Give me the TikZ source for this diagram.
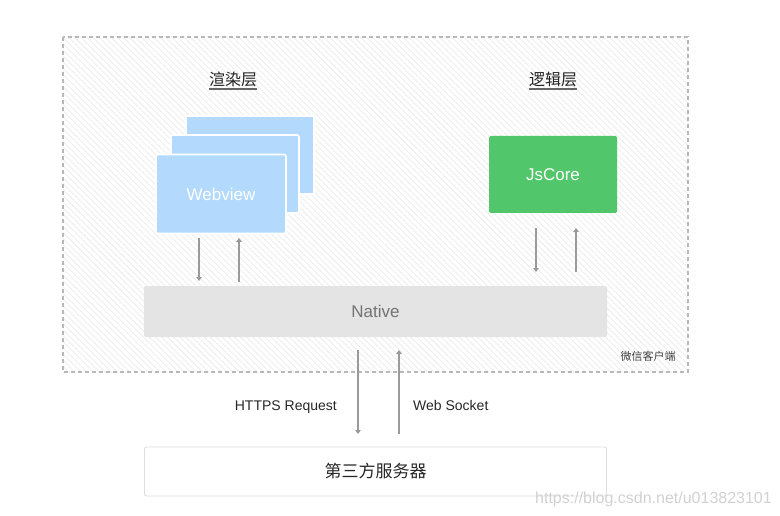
\documentclass[tikz,border=0pt]{standalone}
\usepackage{fontspec}
\setmainfont{Liberation Sans}
\newfontfamily\cjk{Noto Sans CJK SC}
\usetikzlibrary{patterns.meta,arrows.meta}
\definecolor{cardblue}{HTML}{B3DAFD}
\definecolor{coregreen}{HTML}{52C66A}
\definecolor{nativegray}{HTML}{E4E4E4}
\definecolor{arrowgray}{HTML}{9A9A9A}
\definecolor{dashgray}{HTML}{B8B8B8}
\definecolor{titlecol}{HTML}{222222}
\tikzset{
  card/.style={draw=white, line width=1.6pt, fill=cardblue, rounded corners=2pt},
  flow/.style={draw=arrowgray, line width=1.1pt, -{Triangle[length=4pt,width=5.5pt]}},
  title/.style={font=\cjk\fontsize{16}{18}\selectfont, text=titlecol, inner sep=0pt},
  lbl/.style={font=\fontsize{14}{16}\selectfont, text=black!85, inner sep=0pt},
}
\begin{document}
\begin{tikzpicture}[x=1pt,y=-1pt]
\useasboundingbox (0,0) rectangle (780,516);
% client frame
\path[pattern={Lines[angle=-45,distance=4.3pt,line width=0.9pt]}, pattern color=black!7] (63,37) rectangle (688,372);
\draw[dashgray, line width=1.3pt, dash pattern=on 4pt off 3pt] (63,37) rectangle (688,372);
\node[font=\cjk\fontsize{11}{13}\selectfont, text=black!75, inner sep=0pt] (client) at (648,356) {微信客户端};
% titles
\node[title] (t1) at (233,79) {渲染层};
\draw[black!60, line width=1.8pt] ([yshift=-2.5pt]t1.south west) -- ([yshift=-2.5pt]t1.south east);
\node[title] (t2) at (553,79) {逻辑层};
\draw[black!60, line width=1.8pt] ([yshift=-2.5pt]t2.south west) -- ([yshift=-2.5pt]t2.south east);
% webview stack
\path[card] (186,116) rectangle (314,194);
\path[card] (171,135) rectangle (299,213);
\node[card, minimum width=130pt, minimum height=79pt, inner sep=0pt, text=white, font=\fontsize{17}{19}\selectfont] (web) at (221,194) {Webview};
% jscore
\node[fill=coregreen, rounded corners=1.5pt, minimum width=128pt, minimum height=77pt, inner sep=0pt, text=white, font=\fontsize{17}{19}\selectfont] (core) at (553,174.5) {JsCore};
% native
\node[fill=nativegray, rounded corners=2pt, minimum width=463pt, minimum height=51pt, inner sep=0pt, text=black!55, font=\fontsize{17}{19}\selectfont] (native) at (375.5,311.5) {Native};
% server
\node[draw=black!13, line width=0.9pt, fill=white, rounded corners=2pt, minimum width=462pt, minimum height=49pt, inner sep=0pt, font=\cjk\fontsize{17}{19}\selectfont, text=black!85] (server) at (375.5,471.5) {第三方服务器};
% arrows web <-> native
\coordinate (w1a) at (199,238); \coordinate (w1b) at (199,281);
\coordinate (w2a) at (239,282); \coordinate (w2b) at (239,238);
\draw[flow] (w1a) -- (w1b);
\draw[flow] (w2a) -- (w2b);
% arrows core <-> native
\coordinate (c1a) at (536,228); \coordinate (c1b) at (536,272);
\coordinate (c2a) at (576,272); \coordinate (c2b) at (576,228);
\draw[flow] (c1a) -- (c1b);
\draw[flow] (c2a) -- (c2b);
% arrows native <-> server
\coordinate (n1a) at (358,350); \coordinate (n1b) at (358,434);
\coordinate (n2a) at (399,434); \coordinate (n2b) at (399,350);
\draw[flow] (n1a) -- (n1b);
\draw[flow] (n2a) -- (n2b);
\node[lbl, anchor=base east] (https) at (337,410) {HTTPS Request};
\node[lbl, anchor=base west] (ws) at (413,410) {Web Socket};
% watermark
\node[font=\fontsize{16}{18}\selectfont, text=black!18, inner sep=0pt, anchor=base east] (wm) at (772,503) {https://blog.csdn.net/u013823101};
\end{tikzpicture}
\end{document}
